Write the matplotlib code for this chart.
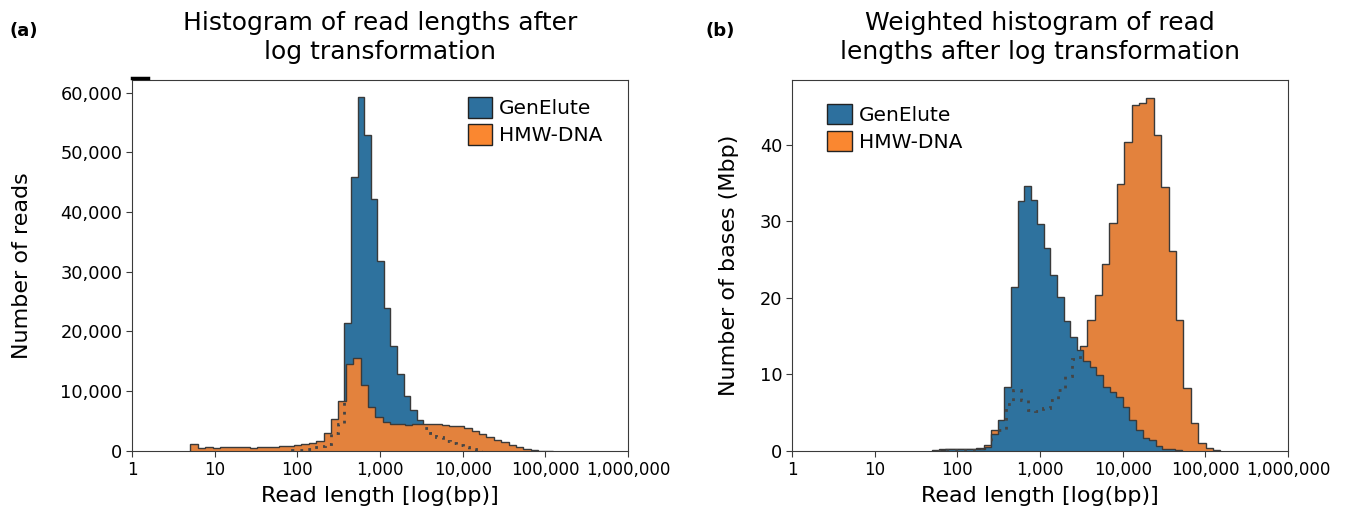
import numpy as np
import matplotlib.pyplot as plt
from matplotlib.patches import Patch
from matplotlib.ticker import FuncFormatter, NullLocator, FixedLocator

# bins are equal width in log10(bp)
hmw_log_start = 0.7064     # first HMW-DNA bin edge (~5 bp)
hmw_log_step = 0.0895
gen_log_step = 0.0795

# (a) number of reads per bin
hmw_reads = [1170, 500, 670, 550, 700, 680, 680, 650, 520, 600,
             680, 700, 770, 830, 1000, 1220, 1300, 1650, 3060, 5290,
             8360, 14600, 15600, 10970, 7360, 5690, 4900, 4450, 4450, 4400,
             4480, 4550, 4500, 4450, 4350, 4250, 4100, 3850, 3280, 2840,
             2340, 1890, 1440, 1050, 670, 380, 220, 80, 30]
gen_reads_log_start = 1.934
gen_reads = [100, 200, 350, 600, 900, 1100, 3000, 4450,
             21450, 45800, 59200, 52840, 42190, 31770, 23850, 17490, 12930, 9250,
             6790, 5120, 3900, 3000, 2300, 1700, 1300, 950, 600, 300, 60]

# (b) bases (Mbp) per bin
hmw_bases_first_bin = 12
hmw_bases = [0.2, 0.2, 0.2, 0.2, 0.2, 0.35, 0.8, 2.7, 2.8, 6.2,
             8.0, 6.7, 5.4, 5.2, 5.6, 6.7, 8.0, 9.8, 12.0,
             13.7, 17.1, 20.4, 24.4, 29.8, 34.9, 40.4, 45.2, 45.5, 46.2,
             41.3, 34.5, 26.1, 17.1, 8.2, 3.7, 1.1, 0.35, 0.13]
gen_bases_log_start = 1.6955
gen_bases = [0.15, 0.15, 0.2, 0.2, 0.2, 0.2, 0.2, 0.3, 0.5, 2.2, 4.0,
             8.4, 21.4, 32.7, 34.7, 32.8, 29.7, 26.6, 23.0, 20.1, 17.0,
             14.9, 13.2, 11.7, 11.0, 9.9, 8.4, 7.75, 7.1, 5.8, 4.05,
             2.8, 1.65, 1.4, 0.65, 0.3, 0.3, 0.1]

labels = ["GenElute", "HMW-DNA"]
x_ticks = [1, 10, 100, 1000, 10000, 100000, 1000000]

blue = "#2e729e"
orange = "#e3823d"
blue_leg = "#2d709e"
orange_leg = "#fa8730"
edge = "#3a3a3a"


def edges(start, step, n):
    return 10 ** (start + step * np.arange(n + 1))


def style_axes(ax):
    ax.set_xscale("log")
    ax.set_xlim(1, 1e6)
    ax.xaxis.set_major_locator(FixedLocator(x_ticks))
    ax.xaxis.set_minor_locator(NullLocator())
    ax.xaxis.set_major_formatter(FuncFormatter(lambda v, p: f"{int(round(v)):,}"))
    ax.tick_params(length=4, color=edge, pad=3)
    ax.tick_params(axis="x", labelsize=12)
    ax.tick_params(axis="y", labelsize=12.8)
    for s in ax.spines.values():
        s.set_color(edge)
    ax.set_xlabel("Read length [log(bp)]", fontsize=16, labelpad=5)


def draw(ax, vals, e, face, z):
    fill = ax.stairs(vals, e, fill=True, color=face, zorder=z)
    ax.stairs(vals, e, color=edge, lw=1.0, zorder=z + 0.1)
    return fill


def hidden_outline(ax, vals, e, front):
    # outline of the back histogram, only where it is covered by the front one
    ln = ax.stairs(vals, e, color="#444444", lw=2, ls=(0, (1, 2.2)), zorder=3)
    ln.set_clip_path(front)


fig = plt.figure(figsize=(13.55, 5.15), dpi=100)
ax1 = fig.add_axes([0.0974, 0.1243, 0.3661, 0.7204])
ax2 = fig.add_axes([0.5845, 0.1243, 0.3661, 0.7204])

# (a) GenElute behind, HMW-DNA in front
e_gen = edges(gen_reads_log_start, gen_log_step, len(gen_reads))
e_hmw = edges(hmw_log_start, hmw_log_step, len(hmw_reads))
draw(ax1, gen_reads, e_gen, blue, 1)
front1 = draw(ax1, hmw_reads, e_hmw, orange, 2)
hidden_outline(ax1, gen_reads, e_gen, front1)
style_axes(ax1)
ax1.set_ylim(0, 62100)
ax1.set_yticks(range(0, 60001, 10000))
ax1.yaxis.set_major_formatter(FuncFormatter(lambda v, p: f"{int(v):,}"))
ax1.set_ylabel("Number of reads", fontsize=16, labelpad=20)
ax1.set_title("Histogram of read lengths after\nlog transformation", fontsize=18, pad=15,
              linespacing=1.25)
ax1.plot([0, 0.032], [1.005, 1.005], transform=ax1.transAxes, color="black", lw=2.5,
         clip_on=False, zorder=5)

# (b) HMW-DNA behind, GenElute in front
hmw_b_start = hmw_log_start + hmw_log_step * hmw_bases_first_bin
e_hmw_b = edges(hmw_b_start, hmw_log_step, len(hmw_bases))
e_gen_b = edges(gen_bases_log_start, gen_log_step, len(gen_bases))
draw(ax2, hmw_bases, e_hmw_b, orange, 1)
front2 = draw(ax2, gen_bases, e_gen_b, blue, 2)
hidden_outline(ax2, hmw_bases, e_hmw_b, front2)
style_axes(ax2)
ax2.set_ylim(0, 48.5)
ax2.set_yticks([0, 10, 20, 30, 40])
ax2.set_ylabel("Number of bases (Mbp)", fontsize=16, labelpad=15)
ax2.set_title("Weighted histogram of read\nlengths after log transformation", fontsize=18,
              pad=15, linespacing=1.25)

handles = [Patch(facecolor=blue_leg, edgecolor="#222222", label=labels[0]),
           Patch(facecolor=orange_leg, edgecolor="#222222", label=labels[1])]
ax1.legend(handles=handles, loc="upper right", frameon=False, fontsize=14.5,
           handlelength=1.2, handleheight=1.2, handletextpad=0.35,
           labelspacing=0.3, bbox_to_anchor=(0.985, 1.003))
ax2.legend(handles=handles, loc="upper left", frameon=False, fontsize=14.5,
           handlelength=1.2, handleheight=1.2, handletextpad=0.35,
           labelspacing=0.3, bbox_to_anchor=(0.035, 0.985))

fig.text(0.007, 0.93, "(a)", fontsize=13, fontweight="bold")
fig.text(0.521, 0.93, "(b)", fontsize=13, fontweight="bold")

fig.savefig("out.png", dpi=100)
